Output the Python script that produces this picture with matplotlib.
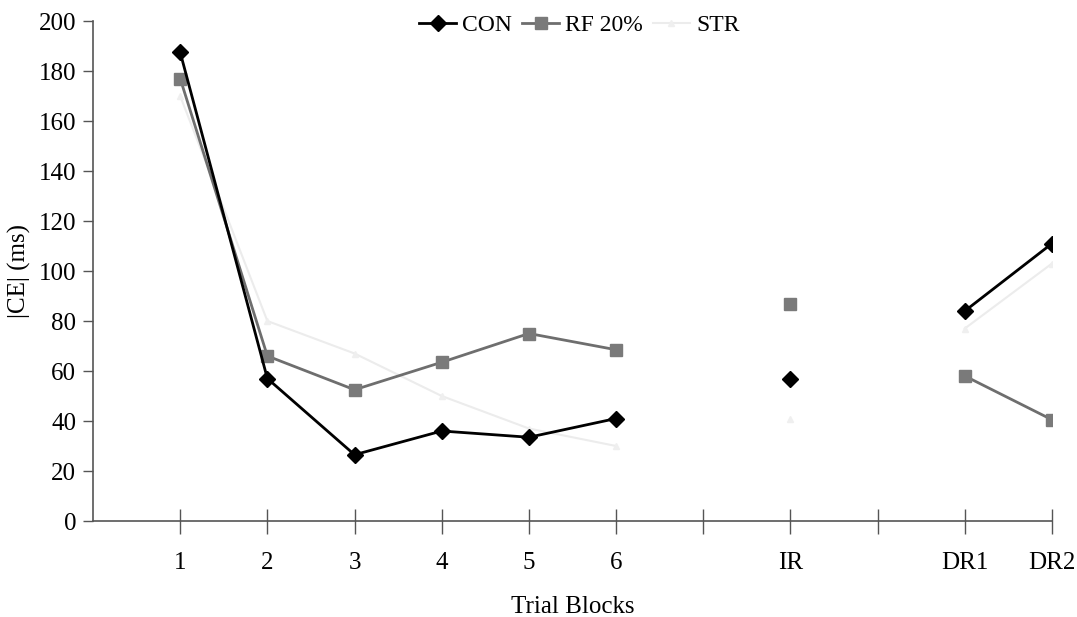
import numpy as np
import matplotlib
matplotlib.use("Agg")
import matplotlib.pyplot as plt

categories = ["1", "2", "3", "4", "5", "6", "", "IR", "", "DR1", "DR2"]
con = [187.5, 57, 26.5, 36, 33.5, 41, np.nan, 57, np.nan, 84, 111]
rf20 = [177, 66, 52.5, 63.5, 75, 68.5, np.nan, 87, np.nan, 58, 40.5]
stroop = [170, 80, 67, 50, 37, 30, np.nan, 41, np.nan, 77, 103]

plt.rcParams['font.family'] = ['Liberation Serif', 'DejaVu Serif']

fig = plt.figure(figsize=(10.77, 6.17), dpi=100)
ax = fig.add_axes([93/1077, 96/617, (1052-93)/1077, 500/617])

x = np.arange(1, len(categories) + 1)
ax.plot(x, stroop, color='#ececec', lw=1.5, marker='^', ms=5, mfc='#efefef', mec='#efefef', label='STR', zorder=1)
ax.plot(x, rf20, color='#6e6e6e', lw=2, marker='s', ms=9, mfc='#7a7a7a', mec='#7a7a7a', label='RF 20%', zorder=2)
ax.plot(x, con, color='black', lw=2, marker='D', ms=8, mfc='black', mec='black', label='CON', zorder=3)

ax.set_xlim(0, len(categories))
ax.set_ylim(0, 200)
ax.set_yticks(np.arange(0, 201, 20))
ax.set_xticks(x)
ax.set_xticklabels(categories)

for s in ['top', 'right']:
    ax.spines[s].set_visible(False)
for s in ['left', 'bottom']:
    ax.spines[s].set_color('#555555')
    ax.spines[s].set_linewidth(1.2)

ax.tick_params(axis='y', direction='out', length=7, width=1, color='#555555', labelsize=18, pad=5)
ax.tick_params(axis='x', direction='inout', length=18, width=1, color='#555555', labelsize=18, pad=13)

ax.set_ylabel('|CE| (ms)', fontsize=18, labelpad=6)
ax.set_xlabel('Trial Blocks', fontsize=18, labelpad=16)

handles, labels = ax.get_legend_handles_labels()
order = [2, 1, 0]
ax.legend([handles[i] for i in order], [labels[i] for i in order], loc='upper center',
          bbox_to_anchor=(0.507, 1.055), ncol=3, frameon=False, fontsize=17,
          handlelength=1.6, handletextpad=0.25, columnspacing=0.4)

fig.savefig('out.png', dpi=100, facecolor='white')
